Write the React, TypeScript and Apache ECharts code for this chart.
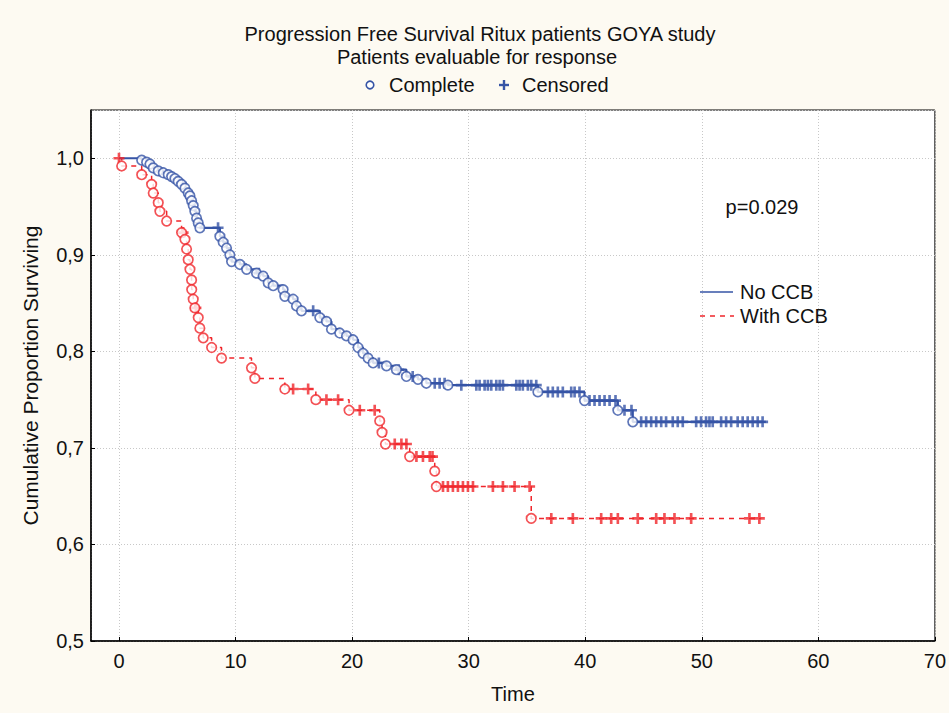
import React, { useEffect, useRef } from "react";
import * as echarts from "echarts";

// ---- Data (time in months, cumulative proportion surviving) ----
const titleLines = ["Progression Free Survival Ritux patients GOYA study", "Patients evaluable for response"];
const seriesNames = ["No CCB", "With CCB"];
const xTicks = [0, 10, 20, 30, 40, 50, 60, 70];
const yTicks = [0.5, 0.6, 0.7, 0.8, 0.9, 1.0];
const pValueText = "p=0.029";

// No CCB: complete (event) points
const blueEvents: number[][] = [
  [1.95, 0.998], [2.37, 0.996], [2.66, 0.994], [2.94, 0.99], [3.37, 0.987], [3.8, 0.985],
  [4.23, 0.983], [4.52, 0.981], [4.8, 0.979], [5.08, 0.976], [5.37, 0.973], [5.66, 0.969],
  [5.94, 0.964], [6.09, 0.961], [6.23, 0.956], [6.37, 0.951], [6.51, 0.945], [6.66, 0.938],
  [6.8, 0.933], [6.94, 0.928],
  [8.66, 0.919], [8.94, 0.913], [9.23, 0.907], [9.51, 0.9], [9.66, 0.893], [10.37, 0.89],
  [10.95, 0.885], [11.8, 0.881], [12.37, 0.878], [12.8, 0.871], [13.23, 0.868], [14.08, 0.864],
  [14.23, 0.857], [14.94, 0.854], [15.23, 0.847], [15.66, 0.842], [17.23, 0.835], [17.8, 0.831],
  [18.23, 0.823], [18.94, 0.819], [19.52, 0.816], [20.08, 0.812], [20.51, 0.804], [20.94, 0.798],
  [21.37, 0.793], [21.8, 0.788], [22.95, 0.785], [23.8, 0.781], [24.66, 0.774], [25.65, 0.771],
  [26.37, 0.767], [28.22, 0.765], [35.94, 0.758], [39.94, 0.749], [42.8, 0.739], [44.08, 0.727],
];
const blueEnd = [55.5, 0.727];
// No CCB: censored points
const blueCensored: number[][] = [
  [8.5, 0.928], [12.0, 0.881], [16.66, 0.842], [22.3, 0.788], [24.0, 0.781], [25.2, 0.774],
  [27.09, 0.767], [27.51, 0.767], [27.94, 0.767],
  [29.37, 0.765], [30.66, 0.765], [30.94, 0.765], [31.37, 0.765], [31.65, 0.765], [31.94, 0.765],
  [32.37, 0.765], [32.66, 0.765], [32.94, 0.765], [34.09, 0.765], [34.37, 0.765], [34.65, 0.765],
  [35.08, 0.765], [35.37, 0.765], [35.8, 0.765],
  [36.8, 0.758], [37.22, 0.758], [37.65, 0.758], [38.08, 0.758], [38.8, 0.758], [39.09, 0.758], [39.51, 0.758],
  [40.37, 0.749], [40.8, 0.749], [41.23, 0.749], [41.66, 0.749], [42.09, 0.749], [42.6, 0.749],
  [43.37, 0.739], [43.97, 0.739],
  [44.8, 0.727], [45.23, 0.727], [45.66, 0.727], [46.09, 0.727], [46.52, 0.727], [46.94, 0.727],
  [47.51, 0.727], [47.94, 0.727], [48.37, 0.727], [49.52, 0.727], [49.94, 0.727], [50.37, 0.727],
  [50.66, 0.727], [50.94, 0.727], [51.66, 0.727], [52.09, 0.727], [52.52, 0.727], [53.08, 0.727],
  [53.51, 0.727], [53.94, 0.727], [54.37, 0.727], [54.8, 0.727], [55.22, 0.727],
];

// With CCB: complete (event) points
const redEvents: number[][] = [
  [0.23, 0.992], [1.95, 0.983], [2.8, 0.973], [2.94, 0.964], [3.37, 0.954], [3.51, 0.945],
  [4.09, 0.935], [5.37, 0.923], [5.66, 0.916], [5.8, 0.906], [5.94, 0.895], [6.09, 0.885],
  [6.23, 0.874], [6.24, 0.864], [6.37, 0.854], [6.51, 0.845], [6.8, 0.835], [6.94, 0.824],
  [7.23, 0.814], [7.95, 0.804], [8.8, 0.793], [11.37, 0.783], [11.66, 0.772], [14.23, 0.761],
  [16.89, 0.75], [19.74, 0.739], [22.37, 0.728], [22.57, 0.716], [22.86, 0.704], [24.94, 0.691],
  [27.09, 0.676], [27.23, 0.66], [35.37, 0.627],
];
const redEnd = [55.1, 0.627];
// With CCB: censored points
const redCensored: number[][] = [
  [0.0, 1.0], [5.5, 0.923], [6.6, 0.845],
  [14.94, 0.761], [16.23, 0.761], [17.8, 0.75], [18.8, 0.75], [20.66, 0.739], [21.94, 0.739],
  [23.66, 0.704], [24.23, 0.704], [24.66, 0.704],
  [25.52, 0.691], [26.08, 0.691], [26.66, 0.691], [26.9, 0.691],
  [27.8, 0.66], [28.22, 0.66], [28.65, 0.66], [29.08, 0.66], [29.51, 0.66], [29.94, 0.66], [30.37, 0.66],
  [32.08, 0.66], [32.94, 0.66], [33.94, 0.66], [35.23, 0.66],
  [37.09, 0.627], [38.94, 0.627], [41.37, 0.627], [42.23, 0.627], [42.8, 0.627], [44.51, 0.627],
  [46.09, 0.627], [46.8, 0.627], [47.66, 0.627], [49.09, 0.627], [54.09, 0.627], [54.94, 0.627],
];

const BLUE = "#3654a6";
const RED = "#f0262b";
const BG = "#fdfaf2";
const FONT = "'Liberation Sans', Arial, sans-serif";
const FS = 20;
const PLUS =
  "path://M-1.2,-5 L1.2,-5 L1.2,-1.2 L5,-1.2 L5,1.2 L1.2,1.2 L1.2,5 L-1.2,5 L-1.2,1.2 L-5,1.2 L-5,-1.2 L-1.2,-1.2 Z";

export default function App() {
  const ref = useRef<HTMLDivElement>(null);
  useEffect(() => {
    document.body.style.margin = "0";
    if (!ref.current) return;
    const chart = echarts.init(ref.current, undefined, { renderer: "svg" });
    const blueLine = [[0, 1.0], ...blueEvents, blueEnd];
    const redLine = [[0, 1.0], ...redEvents, redEnd];
    const fmtY = (v: number) => {
      const r = Math.round(v * 10) / 10;
      return yTicks.some((t) => Math.abs(t - v) < 1e-6) ? r.toFixed(1).replace(".", ",") : "";
    };
    const fmtX = (v: number) => (xTicks.some((t) => Math.abs(t - v) < 1e-6) ? String(v) : "");
    chart.setOption({
      animation: false,
      backgroundColor: BG,
      grid: {
        left: 91, top: 110, right: 11, bottom: 72,
        show: true, backgroundColor: "#ffffff", borderColor: "#000", borderWidth: 1,
      },
      xAxis: {
        type: "value", min: -2.4, max: 70, splitNumber: 7,
        name: "Time", nameLocation: "middle", nameGap: 43,
        nameTextStyle: { fontFamily: FONT, fontSize: FS, color: "#111" },
        axisLine: { show: true, onZero: false, lineStyle: { color: "#000", width: 1.5 } },
        axisTick: { show: true, inside: true, length: 4, lineStyle: { color: "#000" } },
        axisLabel: { formatter: fmtX, fontFamily: FONT, fontSize: FS, color: "#111", margin: 10, showMinLabel: false },
        splitLine: { show: true, lineStyle: { color: "#c8c8c8", type: [1, 2], width: 1 } },
      },
      yAxis: {
        type: "value", min: 0.5, max: 1.05, interval: 0.1,
        name: "Cumulative Proportion Surviving", nameLocation: "middle", nameGap: 50,
        nameTextStyle: { fontFamily: FONT, fontSize: 21, color: "#111" },
        axisLine: { show: true, onZero: false, lineStyle: { color: "#000", width: 1.5 } },
        axisTick: { show: true, inside: true, length: 4, lineStyle: { color: "#000" } },
        axisLabel: { formatter: fmtY, fontFamily: FONT, fontSize: FS, color: "#111", margin: 7, showMaxLabel: false },
        splitLine: { show: true, lineStyle: { color: "#c8c8c8", type: [1, 2], width: 1 } },
      },
      series: [
        {
          name: seriesNames[1], type: "line", step: "end", data: redLine, symbol: "none",
          lineStyle: { color: RED, width: 1.5, type: [5, 5] }, z: 2,
        },
        {
          name: seriesNames[0], type: "line", step: "end", data: blueLine, symbol: "none",
          lineStyle: { color: BLUE, width: 2.2 }, z: 2,
        },
        {
          type: "scatter", data: redCensored, symbol: PLUS, symbolSize: 11,
          itemStyle: { color: RED }, z: 3,
        },
        {
          type: "scatter", data: redEvents, symbol: "circle", symbolSize: 9.5,
          itemStyle: { color: "#fff", borderColor: RED, borderWidth: 1.7 }, z: 4,
        },
        {
          type: "scatter", data: blueCensored, symbol: PLUS, symbolSize: 11,
          itemStyle: { color: BLUE }, z: 3,
        },
        {
          type: "scatter", data: blueEvents, symbol: "circle", symbolSize: 9.5,
          itemStyle: { color: "#fff", borderColor: BLUE, borderWidth: 1.7 }, z: 4,
        },
      ],
      graphic: [
        { type: "text", x: 480, y: 34, style: { text: titleLines[0], font: `${FS}px ${FONT}`, fill: "#111", textAlign: "center", textVerticalAlign: "middle" } },
        { type: "text", x: 477, y: 57, style: { text: titleLines[1], font: `${FS}px ${FONT}`, fill: "#111", textAlign: "center", textVerticalAlign: "middle" } },
        { type: "circle", shape: { cx: 370, cy: 85, r: 3.8 }, style: { fill: "#fff", stroke: BLUE, lineWidth: 1.6 } },
        { type: "text", x: 389, y: 85, style: { text: "Complete", font: `${FS}px ${FONT}`, fill: "#111", textAlign: "left", textVerticalAlign: "middle" } },
        { type: "line", shape: { x1: 499, y1: 85, x2: 509, y2: 85 }, style: { stroke: BLUE, lineWidth: 2.4 } },
        { type: "line", shape: { x1: 504, y1: 80, x2: 504, y2: 90 }, style: { stroke: BLUE, lineWidth: 2.4 } },
        { type: "text", x: 522, y: 85, style: { text: "Censored", font: `${FS}px ${FONT}`, fill: "#111", textAlign: "left", textVerticalAlign: "middle" } },
        { type: "text", x: 762, y: 207, z: 10, style: { text: pValueText, font: `${FS}px ${FONT}`, fill: "#111", textAlign: "center", textVerticalAlign: "middle" } },
        { type: "line", z: 10, shape: { x1: 700, y1: 292, x2: 733, y2: 292 }, style: { stroke: BLUE, lineWidth: 1.5 } },
        { type: "text", x: 740, y: 292, z: 10, style: { text: seriesNames[0], font: `${FS}px ${FONT}`, fill: "#111", textAlign: "left", textVerticalAlign: "middle" } },
        { type: "line", z: 10, shape: { x1: 700, y1: 316, x2: 734, y2: 316 }, style: { stroke: RED, lineWidth: 1.5, lineDash: [5, 5] } },
        { type: "text", x: 740, y: 316, z: 10, style: { text: seriesNames[1], font: `${FS}px ${FONT}`, fill: "#111", textAlign: "left", textVerticalAlign: "middle" } },
      ],
    });
    return () => chart.dispose();
  }, []);
  return <div ref={ref} style={{ width: 949, height: 713, background: BG }} />;
}
